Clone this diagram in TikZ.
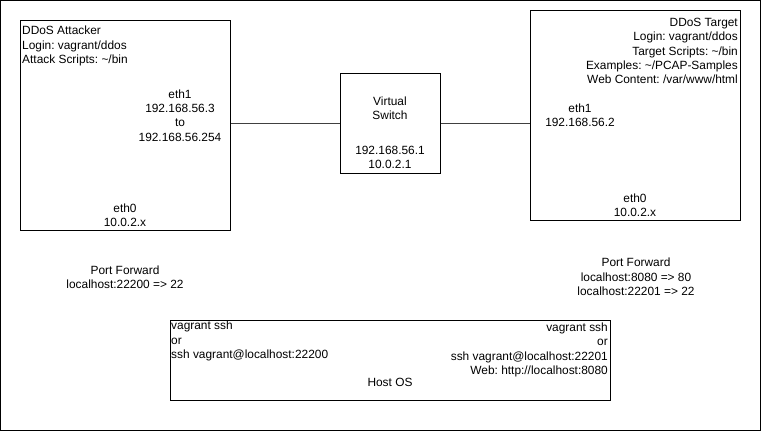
\documentclass[tikz,border=0pt]{standalone}
\usepackage{fontspec}
\setmainfont{Liberation Sans}
\begin{document}
\frenchspacing
\begin{tikzpicture}[x=1pt,y=-1pt,
  box/.style={draw=black,line width=1pt,inner sep=0pt,fill=white},
  txt/.style={inner sep=0pt,font=\fontsize{11.9}{14.3}\selectfont\frenchspacing},
  conn/.style={draw=black!75,line width=1pt}]
\useasboundingbox (0,0) rectangle (761,431);
\fill[white] (0,0) rectangle (761,431);
\node[box,minimum width=760pt,minimum height=430pt] (frame) at (380.5,215.5) {};
% boxes
\node[box,minimum width=210pt,minimum height=210pt] (att) at (125.5,125.5) {};
\node[box,minimum width=210pt,minimum height=210pt] (tgt) at (635.5,115.5) {};
\node[box,minimum width=100pt,minimum height=100pt] (sw) at (390.5,123.5) {};
\node[box,minimum width=440pt,minimum height=80pt] (host) at (390.5,360.5) {};
% connectors
\draw[conn] (sw.west) -- (sw.west -| att.east);
\draw[conn] (sw.east) -- (sw.east -| tgt.west);
% attacker texts
\node[txt,align=left,anchor=west] (attinfo) at (22,46) {DDoS Attacker\\Login: vagrant/ddos\\Attack Scripts: \textasciitilde/bin};
\node[txt,align=center] (atteth1) at (180,115.5) {eth1\\192.168.56.3\\to\\192.168.56.254};
\node[txt,align=center] (atteth0) at (125,215) {eth0\\10.0.2.x};
% target texts
\node[txt,align=right,anchor=east] (tgtinfo) at (738,51) {DDoS Target\\Login: vagrant/ddos\\Target Scripts: \textasciitilde/bin\\Examples: \textasciitilde/PCAP-Samples\\Web Content: /var/www/html};
\node[txt,align=center] (tgteth1) at (580,115.5) {eth1\\192.168.56.2};
\node[txt,align=center] (tgteth0) at (635,205) {eth0\\10.0.2.x};
% switch texts
\node[txt,align=center] (swname) at (390,108.5) {Virtual\\Switch};
\node[txt,align=center] (swip) at (390,157.5) {192.168.56.1\\10.0.2.1};
% port forward
\node[txt,align=center] (pfl) at (125,277) {Port Forward\\localhost:22200 => 22};
\node[txt,align=center] (pfr) at (636,277) {Port Forward\\localhost:8080 => 80\\localhost:22201 => 22};
% host texts
\node[txt,align=left,anchor=west] (hostl) at (171,341) {vagrant ssh\\or\\ssh vagrant@localhost:22200};
\node[txt,align=right,anchor=east] (hostr) at (608,350) {vagrant ssh\\or\\ssh vagrant@localhost:22201\\Web: http://localhost:8080};
\node[txt] (hostname) at (390,382) {Host OS};
\end{tikzpicture}
\end{document}
